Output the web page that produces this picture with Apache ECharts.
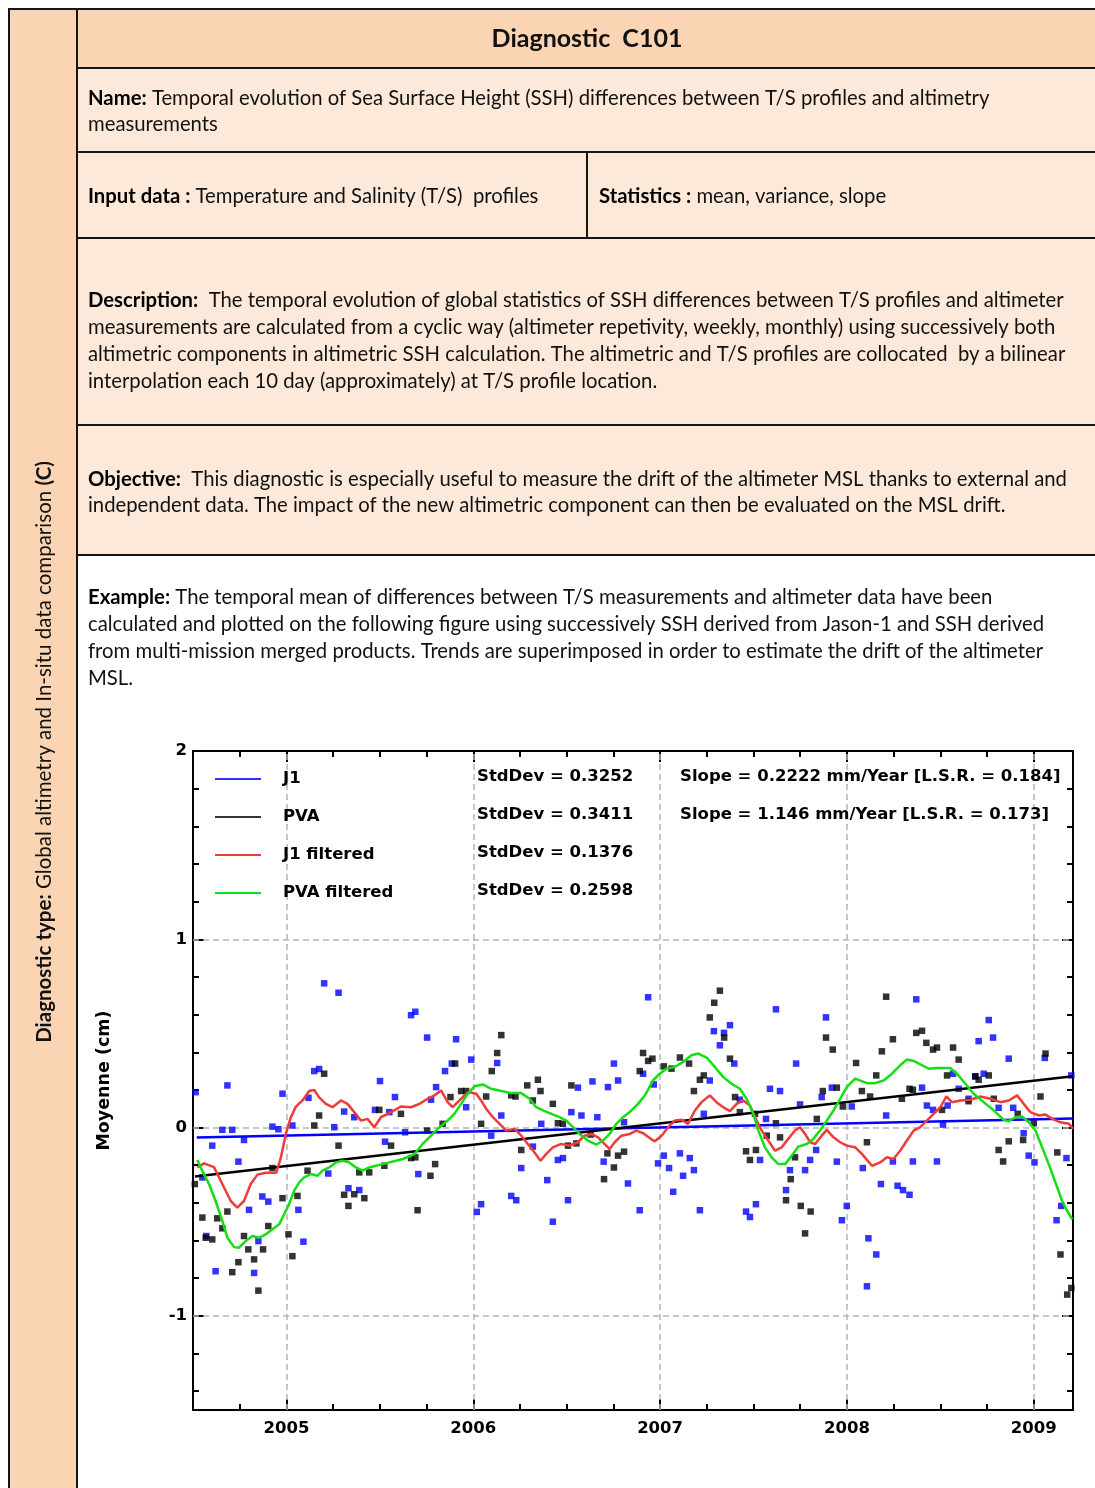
<!DOCTYPE html>
<html><head><meta charset="utf-8">
<script src="https://cdn.jsdelivr.net/npm/echarts@6/dist/echarts.min.js"></script>
<style>html,body{margin:0;padding:0;background:#fff}#c{width:1095px;height:1488px}</style>
</head><body><div id="c"></div>
<script>
// ---------- data ----------
const X_MIN = 2004.5, X_MAX = 2009.21;
const Y_MIN = -1.5, Y_MAX = 2;
const YEAR_TICKS = [2005, 2006, 2007, 2008, 2009];
const QUARTER_TICKS = [2004.75, 2005.25, 2005.5, 2005.75, 2006.25, 2006.5, 2006.75, 2007.25, 2007.5, 2007.75, 2008.25, 2008.5, 2008.75];
const Y_LABEL_TICKS = [-1, 0, 1, 2];
const Y_MINOR_TICKS = [-1.4, -1.2, -0.8, -0.6, -0.4, -0.2, 0.2, 0.4, 0.6, 0.8, 1.2, 1.4, 1.6, 1.8];
const Y_GRID = [-1, 0, 1];

const LEGEND_NAMES = ['J1', 'PVA', 'J1 filtered', 'PVA filtered'];
const STDDEV_TEXT = ['StdDev = 0.3252', 'StdDev = 0.3411', 'StdDev = 0.1376', 'StdDev = 0.2598'];
const SLOPE_TEXT = ['Slope = 0.2222 mm/Year [L.S.R. = 0.184]', 'Slope = 1.146 mm/Year [L.S.R. = 0.173]'];

const J1_POINTS = [
[2005.202,0.766],[2005.279,0.716],[2005.667,0.597],[2005.690,0.615],[2005.149,0.30],[2005.175,0.311],[2004.684,0.224],[2004.514,0.188],[2004.979,0.18],[2005.501,0.247],[2005.581,0.162],[2005.118,0.158],[2005.309,0.085],[2005.474,0.094],[2005.551,0.082],[2004.657,-0.012],[2004.710,-0.012],[2004.925,0.005],[2004.957,-0.009],[2005.032,0.011],[2005.256,0.002],[2005.363,0.055],[2005.635,-0.025],[2004.603,-0.096],[2004.773,-0.066],[2004.743,-0.181],[2005.528,-0.075],[2004.550,-0.265],[2004.871,-0.366],[2004.903,-0.393],[2004.800,-0.437],[2005.064,-0.437],[2005.224,-0.244],[2005.332,-0.322],[2005.390,-0.332],[2004.571,-0.576],[2004.850,-0.603],[2004.621,-0.763],[2004.827,-0.772],[2005.091,-0.606],[2005.706,-0.247],
[2005.753,0.478],[2005.908,0.469],[2005.885,0.34],[2005.849,0.30],[2005.989,0.361],[2006.128,0.343],[2005.801,0.215],[2005.774,0.148],[2005.962,0.108],[2006.150,0.064],[2006.364,0.02],[2006.525,0.082],[2006.579,0.064],[2006.664,0.055],[2006.560,0.212],[2006.638,0.245],[2006.721,0.215],[2006.753,0.34],[2006.775,0.25],[2006.909,0.286],[2006.807,0.028],[2006.096,-0.043],[2006.319,-0.101],[2006.453,-0.172],[2006.480,-0.162],[2006.257,-0.215],[2006.396,-0.279],[2006.698,-0.181],[2006.203,-0.363],[2006.230,-0.386],[2006.042,-0.407],[2006.019,-0.448],[2006.507,-0.386],[2006.426,-0.50],[2006.828,-0.297],[2006.891,-0.439],
[2006.936,0.692],[2007.620,0.628],[2007.888,0.585],[2007.288,0.512],[2007.342,0.503],[2007.374,0.544],[2007.320,0.437],[2007.397,0.34],[2007.728,0.34],[2007.266,0.25],[2006.966,0.229],[2007.588,0.206],[2007.642,0.194],[2007.919,0.212],[2007.865,0.162],[2007.427,0.148],[2007.749,0.123],[2007.234,0.073],[2007.567,0.046],[2007.020,-0.149],[2006.989,-0.19],[2007.106,-0.137],[2007.159,-0.162],[2007.048,-0.215],[2007.123,-0.256],[2007.181,-0.226],[2007.070,-0.341],[2007.213,-0.439],[2007.535,-0.172],[2007.460,-0.446],[2007.481,-0.475],[2007.513,-0.407],[2007.695,-0.226],[2007.674,-0.332],[2007.776,-0.226],[2007.803,-0.172],[2007.835,-0.119],[2007.946,-0.181],[2007.999,-0.416],[2007.973,-0.492],[2008.115,-0.588],[2008.107,-0.843],[2008.085,-0.215],[2008.026,0.112],
[2008.371,0.681],[2008.759,0.571],[2008.705,0.459],[2008.782,0.478],[2008.866,0.366],[2009.059,0.37],[2009.201,0.277],[2008.402,0.212],[2008.568,0.286],[2008.598,0.206],[2008.687,0.272],[2008.732,0.286],[2008.651,0.153],[2008.210,0.064],[2008.428,0.117],[2008.461,0.094],[2008.539,0.117],[2008.514,0.016],[2008.812,0.105],[2008.890,0.105],[2008.946,-0.03],[2008.246,-0.18],[2008.353,-0.18],[2008.482,-0.18],[2008.182,-0.30],[2008.271,-0.309],[2008.300,-0.332],[2008.335,-0.357],[2008.973,-0.149],[2009.004,-0.185],[2009.175,-0.162],[2009.147,-0.416],[2009.122,-0.492],[2008.157,-0.674]
];

const PVA_POINTS = [
[2005.202,0.286],[2005.175,0.064],[2005.149,0.011],[2005.497,0.094],[2005.560,-0.096],[2005.613,0.073],[2005.279,-0.096],[2004.510,-0.30],[2005.113,-0.229],[2005.443,-0.238],[2005.524,-0.203],[2005.390,-0.238],[2005.667,-0.162],[2005.309,-0.357],[2005.363,-0.354],[2005.417,-0.375],[2005.332,-0.416],[2005.702,-0.439],[2004.979,-0.375],[2005.059,-0.363],[2004.925,-0.215],[2004.684,-0.446],[2004.550,-0.478],[2004.630,-0.482],[2004.657,-0.535],[2004.568,-0.585],[2004.603,-0.594],[2004.903,-0.523],[2004.773,-0.576],[2004.796,-0.647],[2004.875,-0.647],[2004.827,-0.70],[2004.743,-0.715],[2004.710,-0.768],[2004.850,-0.866],[2005.011,-0.567],[2005.032,-0.683],
[2006.150,0.491],[2006.128,0.396],[2006.099,0.30],[2005.903,0.34],[2006.346,0.254],[2006.289,0.224],[2006.360,0.194],[2006.525,0.224],[2005.935,0.194],[2005.962,0.194],[2005.878,0.162],[2006.069,0.165],[2006.203,0.171],[2006.226,0.165],[2006.319,0.144],[2006.426,0.126],[2005.836,0.02],[2006.042,0.02],[2006.453,0.023],[2006.480,0.02],[2005.753,-0.016],[2006.257,-0.119],[2006.507,-0.096],[2006.552,-0.084],[2006.628,-0.037],[2006.718,-0.137],[2006.775,-0.149],[2006.807,-0.128],[2006.753,-0.212],[2006.700,-0.274],[2005.796,-0.194],[2005.771,-0.256],[2005.690,-0.158],[2006.909,0.396],[2006.891,0.30],
[2007.320,0.727],[2007.290,0.663],[2007.266,0.585],[2007.343,0.478],[2006.959,0.366],[2006.936,0.354],[2007.106,0.372],[2007.155,0.34],[2007.020,0.325],[2007.061,0.313],[2007.374,0.366],[2007.234,0.277],[2007.213,0.254],[2007.181,0.194],[2007.401,0.162],[2007.427,0.082],[2007.888,0.478],[2007.924,0.414],[2008.049,0.343],[2007.871,0.194],[2007.946,0.212],[2007.508,0.073],[2007.571,-0.043],[2007.620,0.023],[2007.642,-0.052],[2007.839,0.046],[2007.460,-0.126],[2007.513,-0.119],[2007.481,-0.172],[2007.722,-0.158],[2007.699,-0.274],[2007.674,-0.386],[2007.753,-0.416],[2007.806,-0.446],[2007.776,-0.562],[2007.978,0.112],[2008.107,-0.078],
[2008.210,0.695],[2008.371,0.503],[2008.402,0.514],[2008.246,0.469],[2008.425,0.45],[2008.461,0.414],[2008.482,0.425],[2008.568,0.425],[2008.187,0.405],[2008.598,0.361],[2008.157,0.277],[2008.536,0.277],[2008.687,0.272],[2008.705,0.254],[2008.759,0.277],[2008.335,0.206],[2008.353,0.201],[2008.080,0.194],[2008.124,0.165],[2008.294,0.153],[2008.651,0.14],[2008.786,0.153],[2009.063,0.393],[2009.036,0.165],[2008.509,0.094],[2008.914,0.073],[2009.000,0.023],[2008.866,-0.073],[2008.943,-0.066],[2008.812,-0.119],[2008.836,-0.18],[2009.126,-0.132],[2009.143,-0.674],[2009.179,-0.887],[2009.201,-0.852]
];

const J1_TREND = [[2004.52, -0.053], [2009.21, 0.048]];
const PVA_TREND = [[2004.51, -0.26], [2009.21, 0.272]];

const J1_FILTERED = [
[2004.523,-0.212],[2004.559,-0.19],[2004.612,-0.21],[2004.657,-0.30],[2004.702,-0.39],[2004.737,-0.425],[2004.773,-0.39],[2004.809,-0.30],[2004.845,-0.25],[2004.890,-0.24],[2004.946,-0.24],[2004.970,-0.16],[2004.997,-0.034],[2005.024,0.055],[2005.050,0.11],[2005.086,0.144],[2005.122,0.194],[2005.149,0.20],[2005.175,0.16],[2005.211,0.126],[2005.247,0.108],[2005.292,0.144],[2005.327,0.126],[2005.363,0.082],[2005.399,0.037],[2005.434,0.046],[2005.470,0.002],[2005.506,0.055],[2005.542,0.073],[2005.577,0.091],[2005.613,0.112],[2005.667,0.108],[2005.712,0.126],[2005.756,0.153],[2005.792,0.171],[2005.828,0.197],[2005.863,0.135],[2005.890,0.108],[2005.917,0.135],[2005.953,0.171],[2005.980,0.188],[2006.016,0.18],[2006.042,0.144],[2006.069,0.10],[2006.105,0.055],[2006.141,0.02],[2006.176,-0.016],[2006.221,-0.007],[2006.257,-0.043],[2006.292,-0.087],[2006.328,-0.132],[2006.360,-0.176],[2006.391,-0.14],[2006.426,-0.105],[2006.471,-0.087],[2006.516,-0.096],[2006.560,-0.078],[2006.596,-0.043],[2006.632,-0.034],[2006.668,-0.052],[2006.694,-0.078],[2006.730,-0.114],[2006.757,-0.078],[2006.793,-0.043],[2006.838,-0.034],[2006.873,-0.016],[2006.910,-0.03],[2006.950,-0.06],[2006.972,-0.073],[2007.008,-0.043],[2007.043,0.002],[2007.079,0.037],[2007.115,0.041],[2007.150,0.02],[2007.186,0.091],[2007.222,0.135],[2007.266,0.171],[2007.302,0.135],[2007.338,0.108],[2007.374,0.087],[2007.410,0.126],[2007.445,0.144],[2007.481,0.117],[2007.508,0.055],[2007.544,-0.016],[2007.579,-0.069],[2007.615,-0.123],[2007.651,-0.105],[2007.686,-0.06],[2007.722,-0.016],[2007.749,0.002],[2007.776,-0.034],[2007.803,-0.078],[2007.830,-0.087],[2007.865,-0.043],[2007.892,-0.012],[2007.928,-0.052],[2007.964,-0.078],[2007.999,-0.096],[2008.044,-0.105],[2008.080,-0.14],[2008.134,-0.203],[2008.178,-0.185],[2008.214,-0.158],[2008.249,-0.167],[2008.285,-0.123],[2008.321,-0.069],[2008.357,-0.016],[2008.392,0.002],[2008.428,0.037],[2008.464,0.073],[2008.500,0.108],[2008.532,0.165],[2008.562,0.135],[2008.607,0.144],[2008.661,0.148],[2008.714,0.165],[2008.768,0.153],[2008.822,0.135],[2008.866,0.144],[2008.911,0.171],[2008.946,0.126],[2008.982,0.082],[2009.027,0.064],[2009.063,0.069],[2009.099,0.046],[2009.143,0.028],[2009.188,0.02],[2009.21,-0.007]
];

const PVA_FILTERED = [
[2004.523,-0.172],[2004.550,-0.23],[2004.586,-0.30],[2004.621,-0.39],[2004.657,-0.496],[2004.684,-0.585],[2004.720,-0.635],[2004.746,-0.638],[2004.782,-0.603],[2004.818,-0.576],[2004.854,-0.585],[2004.890,-0.567],[2004.925,-0.54],[2004.961,-0.514],[2004.988,-0.46],[2005.014,-0.407],[2005.041,-0.336],[2005.068,-0.292],[2005.095,-0.265],[2005.131,-0.247],[2005.166,-0.256],[2005.193,-0.229],[2005.229,-0.212],[2005.265,-0.185],[2005.300,-0.176],[2005.336,-0.185],[2005.372,-0.212],[2005.408,-0.229],[2005.443,-0.212],[2005.479,-0.203],[2005.515,-0.194],[2005.551,-0.185],[2005.587,-0.176],[2005.622,-0.167],[2005.667,-0.149],[2005.686,-0.14],[2005.729,-0.087],[2005.774,-0.043],[2005.819,0.002],[2005.863,0.037],[2005.899,0.073],[2005.935,0.126],[2005.971,0.18],[2006.006,0.219],[2006.051,0.229],[2006.096,0.206],[2006.150,0.194],[2006.203,0.183],[2006.257,0.183],[2006.301,0.153],[2006.337,0.108],[2006.373,0.091],[2006.418,0.073],[2006.462,0.055],[2006.498,0.037],[2006.534,0.002],[2006.569,-0.034],[2006.614,-0.069],[2006.659,-0.091],[2006.694,-0.069],[2006.730,-0.034],[2006.766,0.02],[2006.802,0.055],[2006.847,0.091],[2006.882,0.126],[2006.918,0.17],[2006.962,0.25],[2006.998,0.286],[2007.034,0.313],[2007.079,0.322],[2007.123,0.348],[2007.168,0.384],[2007.204,0.393],[2007.249,0.372],[2007.293,0.322],[2007.338,0.268],[2007.383,0.233],[2007.427,0.206],[2007.463,0.153],[2007.499,0.073],[2007.526,-0.016],[2007.561,-0.105],[2007.597,-0.158],[2007.633,-0.194],[2007.669,-0.194],[2007.705,-0.149],[2007.740,-0.101],[2007.785,-0.087],[2007.820,-0.06],[2007.856,-0.016],[2007.892,0.037],[2007.928,0.091],[2007.964,0.153],[2007.999,0.215],[2008.044,0.26],[2008.107,0.236],[2008.151,0.236],[2008.196,0.25],[2008.241,0.286],[2008.285,0.331],[2008.321,0.361],[2008.357,0.354],[2008.402,0.331],[2008.437,0.313],[2008.482,0.316],[2008.553,0.316],[2008.589,0.286],[2008.634,0.233],[2008.678,0.18],[2008.732,0.135],[2008.786,0.091],[2008.839,0.041],[2008.866,0.034],[2008.902,0.055],[2008.938,0.059],[2008.973,0.028],[2009.009,-0.016],[2009.045,-0.105],[2009.080,-0.194],[2009.116,-0.292],[2009.152,-0.39],[2009.179,-0.443],[2009.206,-0.487]
];

// ---------- document text ----------
const HEADER = 'Diagnostic  C101';
const NAME_LINES = ['{b|Name:} Temporal evolution of Sea Surface Height (SSH) differences between T/S profiles and altimetry', 'measurements'];
const INPUT_TEXT = '{b|Input data :} Temperature and Salinity (T/S)  profiles';
const STATS_TEXT = '{b|Statistics :} mean, variance, slope';
const DESC_LINES = [
 '{b|Description:}  The temporal evolution of global statistics of SSH differences between T/S profiles and altimeter',
 'measurements are calculated from a cyclic way (altimeter repetivity, weekly, monthly) using successively both',
 'altimetric components in altimetric SSH calculation. The altimetric and T/S profiles are collocated  by a bilinear',
 'interpolation each 10 day (approximately) at T/S profile location.'
];
const OBJ_LINES = [
 '{b|Objective:}  This diagnostic is especially useful to measure the drift of the altimeter MSL thanks to external and',
 'independent data. The impact of the new altimetric component can then be evaluated on the MSL drift.'
];
const EX_LINES = [
 '{b|Example:} The temporal mean of differences between T/S measurements and altimeter data have been',
 'calculated and plotted on the following figure using successively SSH derived from Jason-1 and SSH derived',
 'from multi-mission merged products. Trends are superimposed in order to estimate the drift of the altimeter',
 'MSL.'
];
const SIDE_TEXT = '{b|Diagnostic type:} Global altimetry and In-situ data comparison {b|(C)}';
const Y_NAME = 'Moyenne (cm)';

// ---------- styles ----------
const PEACH = '#FBD4B4', LIGHT = '#FDE9D9', LINE = '#151515';
const DOC_FONT = 'Lato, "Open Sans", sans-serif';
const DOC_SIZE = 20.3;
const CH_FONT = '"DejaVu Sans", "Liberation Sans", sans-serif';
const CH_SIZE = 16.5;

const richB = { b: { fontWeight: 'bold', fontFamily: DOC_FONT, fontSize: DOC_SIZE, fill: '#000' } };
function docText(x, y, text, extra) {
  return Object.assign({
    type: 'text', x: x, y: y, z: 5,
    style: { text: text, fontFamily: DOC_FONT, fontSize: DOC_SIZE, fill: '#111', verticalAlign: 'middle', rich: richB }
  }, extra || {});
}
function rect(x, y, w, h, fill) {
  return { type: 'rect', z: -2, shape: { x: x, y: y, width: w, height: h }, style: { fill: fill, stroke: LINE, lineWidth: 2 } };
}

const graphics = [
  rect(9, 9, 68, 1500, PEACH),
  rect(77, 9, 1030, 59, PEACH),
  rect(77, 68, 1030, 84, LIGHT),
  rect(77, 152, 510, 86, LIGHT),
  rect(587, 152, 520, 86, LIGHT),
  rect(77, 238, 1030, 187, LIGHT),
  rect(77, 425, 1030, 130, LIGHT),
  rect(77, 555, 1030, 960, '#ffffff'),
  { type: 'text', x: 587, y: 39, z: 5, style: { text: HEADER, fontFamily: DOC_FONT, fontSize: 25, fontWeight: 'bold', fill: '#111', align: 'center', verticalAlign: 'middle' } },
  docText(88, 98, NAME_LINES[0]), docText(88, 124, NAME_LINES[1]),
  docText(88, 196, INPUT_TEXT), docText(599, 196, STATS_TEXT),
  docText(88, 300, DESC_LINES[0]), docText(88, 327, DESC_LINES[1]), docText(88, 354, DESC_LINES[2]), docText(88, 381, DESC_LINES[3]),
  docText(88, 479, OBJ_LINES[0]), docText(88, 505, OBJ_LINES[1]),
  docText(88, 597, EX_LINES[0]), docText(88, 624, EX_LINES[1]), docText(88, 651, EX_LINES[2]), docText(88, 678, EX_LINES[3]),
  { type: 'text', x: 44, y: 752, z: 5, rotation: Math.PI / 2,
    style: { text: SIDE_TEXT, fontFamily: DOC_FONT, fontSize: 20.5, fill: '#111', align: 'center', verticalAlign: 'middle',
      rich: { b: { fontWeight: 'bold', fontFamily: DOC_FONT, fontSize: 20.5, fill: '#111' } } } }
];
const chTextStyle = { fontFamily: CH_FONT, fontSize: CH_SIZE, fontWeight: 'bold', fill: '#000', verticalAlign: 'middle' };
const ROW_Y = [777, 815, 853, 891];
STDDEV_TEXT.forEach((t, i) => graphics.push({ type: 'text', x: 477, y: ROW_Y[i], z: 20, style: Object.assign({ text: t }, chTextStyle) }));
SLOPE_TEXT.forEach((t, i) => graphics.push({ type: 'text', x: 680, y: ROW_Y[i], z: 20, style: Object.assign({ text: t }, chTextStyle) }));

// ---------- axes ----------
const axLine = { show: true, onZero: false, lineStyle: { color: '#000', width: 2 } };
const noLine = { show: false, onZero: false };
const labStyle = { fontFamily: CH_FONT, fontSize: CH_SIZE, fontWeight: 'bold', color: '#000' };
function xAx(pos, ticks, len, labels, showLine) {
  return {
    type: 'value', position: pos, gridIndex: 0, min: X_MIN, max: X_MAX,
    axisLine: showLine ? axLine : noLine,
    axisTick: { show: true, inside: true, length: len, customValues: ticks, lineStyle: { color: '#000', width: 2 } },
    axisLabel: labels ? Object.assign({ show: true, margin: 10, customValues: ticks, formatter: v => String(Math.round(v)) }, labStyle) : { show: false },
    splitLine: { show: false }
  };
}
function yAx(pos, ticks, len, labels, showLine, name) {
  const a = {
    type: 'value', position: pos, gridIndex: 0, min: Y_MIN, max: Y_MAX,
    axisLine: showLine ? axLine : noLine,
    axisTick: { show: true, inside: true, length: len, customValues: ticks, lineStyle: { color: '#000', width: 2 } },
    axisLabel: labels ? Object.assign({ show: true, margin: 6, customValues: ticks, formatter: v => String(Math.round(v)) }, labStyle) : { show: false },
    splitLine: { show: false }
  };
  if (name) {
    a.name = name; a.nameLocation = 'middle'; a.nameRotate = 90; a.nameGap = 80;
    a.nameTextStyle = { fontFamily: CH_FONT, fontSize: 17.5, fontWeight: 'bold', color: '#000' };
  }
  return a;
}

const option = {
  animation: false,
  backgroundColor: '#ffffff',
  grid: { left: 193, top: 751, width: 880, height: 659, containLabel: false },
  xAxis: [
    xAx('bottom', YEAR_TICKS, 11, true, true),
    xAx('bottom', QUARTER_TICKS, 6, false, false),
    xAx('top', YEAR_TICKS, 11, false, true),
    xAx('top', QUARTER_TICKS, 6, false, false)
  ],
  yAxis: [
    yAx('left', Y_LABEL_TICKS, 11, true, true, Y_NAME),
    yAx('left', Y_MINOR_TICKS, 6, false, false),
    yAx('right', Y_LABEL_TICKS, 11, false, true),
    yAx('right', Y_MINOR_TICKS, 6, false, false)
  ],
  legend: {
    left: 215, top: 770, padding: 0, orient: 'vertical', itemWidth: 46, itemHeight: 2, itemGap: 20,
    data: LEGEND_NAMES.map(n => ({ name: n, icon: 'rect' })),
    textStyle: { fontFamily: CH_FONT, fontSize: CH_SIZE, fontWeight: 'bold', color: '#000', lineHeight: 18, padding: [0, 0, 0, 17] },
    selectedMode: false
  },
  graphic: graphics,
  series: [
    { name: 'J1', type: 'scatter', xAxisIndex: 0, yAxisIndex: 0, symbol: 'rect', symbolSize: 6.5, itemStyle: { color: '#0000ff' }, data: J1_POINTS, z: 3,
      markLine: { silent: true, symbol: ['none', 'none'], label: { show: false }, z: 1,
        lineStyle: { color: '#b5b5b5', type: [6, 4], width: 1.5 },
        emphasis: { disabled: true },
        data: YEAR_TICKS.map(v => ({ xAxis: v })).concat(Y_GRID.map(v => ({ yAxis: v }))) } },
    { name: 'PVA', type: 'scatter', xAxisIndex: 0, yAxisIndex: 0, symbol: 'rect', symbolSize: 6.5, itemStyle: { color: '#000000' }, data: PVA_POINTS, z: 3 },
    { name: 'J1', type: 'line', xAxisIndex: 0, yAxisIndex: 0, showSymbol: false, data: J1_TREND, lineStyle: { color: '#0000ff', width: 2.5 }, itemStyle: { color: '#0000ff' }, z: 4 },
    { name: 'PVA', type: 'line', xAxisIndex: 0, yAxisIndex: 0, showSymbol: false, data: PVA_TREND, lineStyle: { color: '#000000', width: 2.5 }, itemStyle: { color: '#000000' }, z: 4 },
    { name: 'J1 filtered', type: 'line', xAxisIndex: 0, yAxisIndex: 0, showSymbol: false, data: J1_FILTERED, lineStyle: { color: '#f23a3a', width: 2.5 }, itemStyle: { color: '#f23a3a' }, z: 5 },
    { name: 'PVA filtered', type: 'line', xAxisIndex: 0, yAxisIndex: 0, showSymbol: false, data: PVA_FILTERED, lineStyle: { color: '#12e012', width: 2.5 }, itemStyle: { color: '#12e012' }, z: 6 }
  ]
};
const chart = echarts.init(document.getElementById('c'), null, { renderer: 'canvas' });
chart.setOption(option);
</script>
</body></html>
